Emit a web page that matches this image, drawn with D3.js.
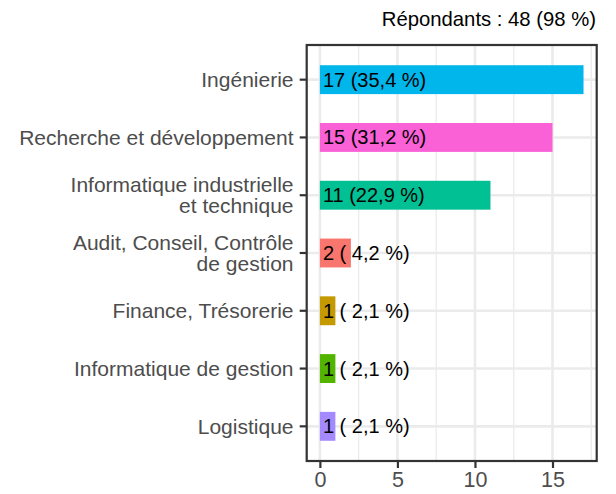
<!DOCTYPE html>
<html>
<head>
<meta charset="utf-8">
<script src="https://cdn.jsdelivr.net/npm/d3@7"></script>
<style>
  body { margin: 0; background: #fff; }
  text { font-family: "Liberation Sans", Arial, sans-serif; }
</style>
</head>
<body>
<div id="chart"></div>
<script>
// chart data, top to bottom
const categories = [
  ["Ingénierie"],
  ["Recherche et développement"],
  ["Informatique industrielle", "et technique"],
  ["Audit, Conseil, Contrôle", "de gestion"],
  ["Finance, Trésorerie"],
  ["Informatique de gestion"],
  ["Logistique"]
];
const counts = [17, 15, 11, 2, 1, 1, 1];
const barLabels = ["17 (35,4 %)", "15 (31,2 %)", "11 (22,9 %)", "2 ( 4,2 %)", "1 ( 2,1 %)", "1 ( 2,1 %)", "1 ( 2,1 %)"];
const barColors = ["#00B6EB", "#FB61D7", "#00C094", "#F8766D", "#C49A00", "#53B400", "#A58AFF"];
const xTicks = [0, 5, 10, 15];
const xMinor = [2.5, 7.5, 12.5, 17.5];
const title = "Répondants : 48 (98 %)";

const W = 616, H = 494;
const panel = {left: 306.7, right: 596.7, top: 45, bottom: 461};

const svg = d3.select("#chart").append("svg")
  .attr("width", W).attr("height", H);

const keys = categories.map((d, i) => i);

// x axis with ggplot's 5% expansion
const xScale = d3.scaleLinear()
  .domain([-0.85, 17.85])
  .range([panel.left, panel.right]);

// discrete y axis, bars half a step wide
const yScale = d3.scaleBand()
  .domain(keys)
  .range([panel.top, panel.bottom])
  .paddingInner(0.5)
  .paddingOuter(0.35);

const yMid = i => yScale(i) + yScale.bandwidth() / 2;

// grid
const grid = svg.append("g");
grid.selectAll(".minor").data(xMinor).enter().append("line")
  .attr("x1", d => xScale(d)).attr("x2", d => xScale(d))
  .attr("y1", panel.top).attr("y2", panel.bottom)
  .attr("stroke", "#ebebeb").attr("stroke-width", 1.3);
grid.selectAll(".major").data(xTicks).enter().append("line")
  .attr("x1", d => xScale(d)).attr("x2", d => xScale(d))
  .attr("y1", panel.top).attr("y2", panel.bottom)
  .attr("stroke", "#ebebeb").attr("stroke-width", 2.6);
grid.selectAll(".hmajor").data(keys).enter().append("line")
  .attr("x1", panel.left).attr("x2", panel.right)
  .attr("y1", d => yMid(d)).attr("y2", d => yMid(d))
  .attr("stroke", "#ebebeb").attr("stroke-width", 2.6);

// bars
svg.selectAll(".bar").data(keys).enter().append("rect")
  .attr("x", xScale(0))
  .attr("y", d => yScale(d))
  .attr("width", d => xScale(counts[d]) - xScale(0))
  .attr("height", yScale.bandwidth())
  .attr("fill", d => barColors[d]);

// bar labels
svg.selectAll(".lbl").data(keys).enter().append("text")
  .attr("x", xScale(0) + 3)
  .attr("y", d => yMid(d))
  .attr("dy", "0.35em")
  .attr("font-size", "20px")
  .attr("fill", "#000")
  .style("white-space", "pre")
  .text(d => barLabels[d]);

// panel border
svg.append("rect")
  .attr("x", panel.left).attr("y", panel.top)
  .attr("width", panel.right - panel.left)
  .attr("height", panel.bottom - panel.top)
  .attr("fill", "none")
  .attr("stroke", "#333333").attr("stroke-width", 2.2);

// y axis
const yAxis = svg.append("g")
  .attr("transform", `translate(${panel.left},0)`)
  .call(d3.axisLeft(yScale).tickSize(7).tickPadding(6).tickFormat(""));
yAxis.select(".domain").remove();
yAxis.selectAll(".tick line").attr("stroke", "#333333").attr("stroke-width", 2.2);

// wrapped category labels
const lineH = 21.5;
svg.selectAll(".ylab").data(keys).enter().append("text")
  .attr("text-anchor", "end")
  .attr("font-size", "21px")
  .attr("fill", "#4d4d4d")
  .each(function(d) {
    const lines = categories[d];
    const t = d3.select(this);
    lines.forEach((ln, j) => {
      t.append("tspan")
        .attr("x", 293.5)
        .attr("y", yMid(d) + 7.5 - (lines.length - 1) * lineH / 2 + j * lineH)
        .text(ln);
    });
  });

// x axis
const xAxis = svg.append("g")
  .attr("transform", `translate(0,${panel.bottom})`)
  .call(d3.axisBottom(xScale).tickValues(xTicks).tickSize(7).tickPadding(4).tickFormat(d3.format("d")));
xAxis.select(".domain").remove();
xAxis.selectAll(".tick line").attr("stroke", "#333333").attr("stroke-width", 2.2);
xAxis.selectAll(".tick text")
  .attr("font-size", "21.5px")
  .attr("fill", "#4d4d4d")
  .attr("font-family", "Liberation Sans, Arial, sans-serif");

// title
svg.append("text")
  .attr("x", 596)
  .attr("y", 26)
  .attr("text-anchor", "end")
  .attr("font-size", "20.3px")
  .attr("fill", "#000")
  .text(title);
</script>
</body>
</html>
